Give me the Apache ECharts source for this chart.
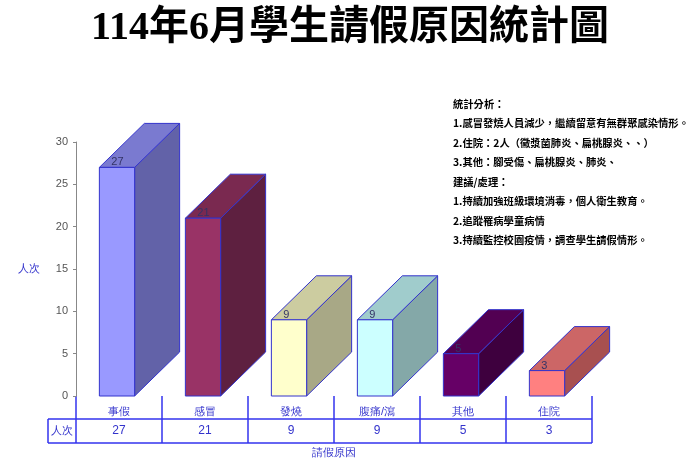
<!DOCTYPE html>
<html><head><meta charset="utf-8">
<script src="https://cdn.jsdelivr.net/npm/echarts@6/dist/echarts.min.js"></script>
<style>html,body{margin:0;padding:0;background:#fff}#c{width:700px;height:468px}</style>
</head><body><div id="c"></div>
<script>
const categories = ['事假','感冒','發燒','腹痛/瀉','其他','住院'];
const values = [27,21,9,9,5,3];
const frontColors = ['#9999ff','#993366','#ffffcc','#ccffff','#660066','#ff8080'];
const topColors = ['#7a7ad0','#7a2950','#cccca0','#a0cccc','#520052','#cc6666'];
const sideColors = ['#6262a8','#5e2040','#a8a886','#84a8a8','#3e003e','#a85050'];
const yTicks = [0,5,10,15,20,25,30];
const notes = ['統計分析：','1.感冒發燒人員減少，繼續留意有無群聚感染情形。','2.住院：2人（黴漿菌肺炎、扁桃腺炎、、）','3.其他：腳受傷、扁桃腺炎、肺炎、','建議/處理：','1.持續加強班級環境消毒，個人衛生教育。','2.追蹤罹病學童病情','3.持續監控校園疫情，調查學生請假情形。'];

const chart = echarts.init(document.getElementById('c'));
const DX = 45, DY = 44, edge = '#3333cc';
function renderItem(params, api) {
  const i = api.value(0), v = api.value(1);
  const top = api.coord([i, v]), base = api.coord([i, 0]);
  const band = api.size([1, 0])[0];
  const w = band * 0.41;
  const x0 = top[0] - w / 2 - 2, x1 = x0 + w, y0 = top[1], y1 = base[1];
  const st = (c) => ({fill: c, stroke: edge, lineWidth: 1});
  return {type: 'group', children: [
    {type: 'polygon', shape: {points: [[x1, y0], [x1 + DX, y0 - DY], [x1 + DX, y1 - DY], [x1, y1]]}, style: st(sideColors[i])},
    {type: 'polygon', shape: {points: [[x0, y0], [x0 + DX, y0 - DY], [x1 + DX, y0 - DY], [x1, y0]]}, style: st(topColors[i])},
    {type: 'rect', shape: {x: x0, y: y0, width: w, height: y1 - y0}, style: st(frontColors[i])},
    {type: 'text', style: {text: String(v), x: x0 + 12, y: y0 - 5, fill: '#333366', font: '11px Arial', textVerticalAlign: 'middle'}}
  ]};
}
chart.setOption({
  animation: false,
  title: {text: '114年6月學生請假原因統計圖', left: 'center', top: 4,
    textStyle: {fontSize: 40, fontWeight: 'bold', fontFamily: '"Liberation Serif","Noto Sans CJK TC"', color: '#000'}},
  grid: {left: 76, right: 108, top: 142, bottom: 72},
  xAxis: {type: 'category', data: categories, axisLine: {show: false}, axisTick: {show: false},
    axisLabel: {color: '#3333cc', fontSize: 11, margin: 10}},
  yAxis: {type: 'value', min: 0, max: 30, interval: 5, splitLine: {show: false},
    axisLine: {show: true, lineStyle: {color: '#888'}}, axisTick: {show: true, length: 3, lineStyle: {color: '#888'}},
    axisLabel: {color: '#555', fontSize: 11},
    name: '人次', nameLocation: 'middle', nameGap: 36, nameRotate: 0, nameTextStyle: {color: '#3333cc', fontSize: 11}},
  series: [{type: 'custom', renderItem, data: values.map((v, i) => [i, v])}]
});

const g = [];
const yb = 396, yr1 = 419, yr2 = 443, left = 48;
const band = chart.convertToPixel({xAxisIndex: 0}, 1) - chart.convertToPixel({xAxisIndex: 0}, 0);
const xs = categories.map((c, i) => chart.convertToPixel({xAxisIndex: 0}, i));
const xL = xs[0] - band / 2, xR = xs[xs.length - 1] + band / 2;
const ln = (a, b, c, d) => g.push({type: 'line', shape: {x1: a, y1: b, x2: c, y2: d}, style: {stroke: '#3333ee', lineWidth: 1.5}});
ln(left, yr1, xR, yr1); ln(left, yr2, xR, yr2); ln(left, yr1, left, yr2);
for (let k = 0; k <= categories.length; k++) ln(xL + k * band, yb, xL + k * band, yr2);
g.push({type: 'text', style: {text: '人次', x: (left + xL) / 2, y: (yr1 + yr2) / 2, fill: '#3333cc', font: '11px sans-serif', textAlign: 'center', textVerticalAlign: 'middle'}});
values.forEach((v, i) => g.push({type: 'text', style: {text: String(v), x: xs[i], y: (yr1 + yr2) / 2, fill: '#3333cc', font: '12px Arial', textAlign: 'center', textVerticalAlign: 'middle'}}));
g.push({type: 'text', style: {text: '請假原因', x: (xL + xR) / 2, y: 453, fill: '#3333cc', font: '11px sans-serif', textAlign: 'center', textVerticalAlign: 'middle'}});
notes.forEach((t, i) => g.push({type: 'text', style: {text: t, x: 453, y: 104 + i * 19.5, fill: '#000', font: 'bold 10.3px "Noto Sans CJK TC"', textVerticalAlign: 'middle'}}));
chart.setOption({graphic: {elements: g}});
</script></body></html>
